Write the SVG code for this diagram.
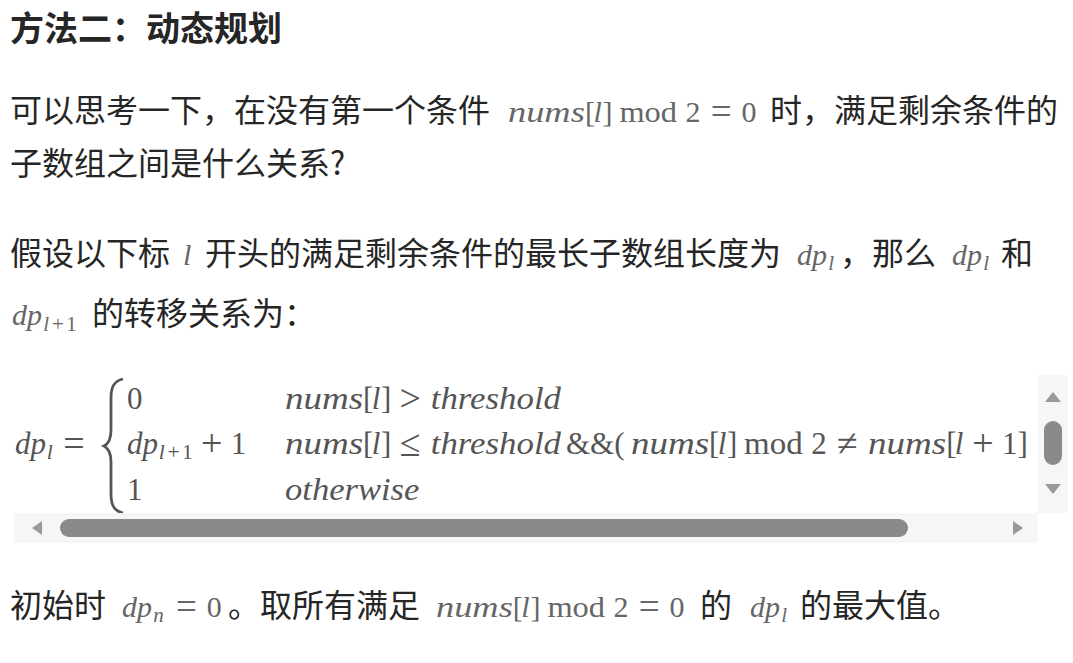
<svg xmlns="http://www.w3.org/2000/svg" width="1073" height="663" viewBox="0 0 1073 663">
<style>
.t{font-family:"Noto Sans CJK SC","Noto Sans",sans-serif;font-size:32px;fill:#262626}
.h{font-weight:bold;font-size:34px}
.mi{font-family:"Liberation Serif",serif;font-style:italic;font-size:30px;fill:#666}
.mr{font-family:"Liberation Serif",serif;font-size:30px;fill:#666}
.s{font-size:21px}
.c{text-anchor:middle}
.mr.op{font-size:37px}
#equation .mi,#equation .mr{fill:#555;font-size:31px}
#equation .mr.op{font-size:38px}
#equation .s{font-size:21.5px}
.track{fill:#f6f6f6}
.thumb{fill:#8a8a8a}
.arrow{fill:#999}
</style>
<rect width="1073" height="663" fill="#ffffff"/>

<g id="title">
<text class="t h" x="10" y="41">方法二：动态规划</text>
</g>

<g id="para1">
<text class="t" x="10" y="122">可以思考一下，在没有第一个条件</text>
<text class="mi" x="508" y="122" textLength="76.8" lengthAdjust="spacingAndGlyphs">nums</text>
<text class="mr" x="585" y="122">[</text>
<text class="mi" x="593.5" y="122">l</text>
<text class="mr" x="602.5" y="122">]</text>
<text class="mr" x="619.4" y="122" textLength="57.6" lengthAdjust="spacingAndGlyphs">mod</text>
<text class="mr" x="685.5" y="122">2</text>
<text class="mr op c" x="721.1" y="124">=</text>
<text class="mr" x="741.4" y="122">0</text>
<text class="t" x="770" y="122">时，满足剩余条件的</text>
<text class="t" x="10" y="175">子数组之间是什么关系?</text>
</g>

<g id="para2">
<text class="t" x="10" y="265">假设以下标</text>
<text class="mi" x="183" y="265">l</text>
<text class="t" x="205" y="265">开头的满足剩余条件的最长子数组长度为</text>
<text class="mi" x="797" y="265">dp</text>
<text class="mi s" x="828.2" y="270">l</text>
<text class="t" x="840" y="265">，那么</text>
<text class="mi" x="952" y="265">dp</text>
<text class="mi s" x="983.2" y="270">l</text>
<text class="t" x="1001" y="265">和</text>
<text class="mi" x="12" y="325">dp</text>
<text class="mi s" x="43.2" y="331">l</text>
<text class="mr s c" x="57.9" y="331">+</text>
<text class="mr s" x="66.3" y="331">1</text>
<text class="t" x="92" y="325">的转移关系为：</text>
</g>

<g id="equation">
<text class="mi" x="15" y="454">dp</text>
<text class="mi s" x="46.7" y="459">l</text>
<text class="mr op c" x="74" y="456">=</text>
<path d="M123,379 C114,381 111,387 111,398 L111,430 C111,440 108,444 104,446 C108,448 111,452 111,462 L111,494 C111,505 114,511 123,513" fill="none" stroke="#555" stroke-width="2.8"/>

<text class="mr" x="127" y="409">0</text>
<text class="mi" x="285" y="409" textLength="78.1" lengthAdjust="spacingAndGlyphs">nums</text>
<text class="mr" x="363.1" y="409">[</text>
<text class="mi" x="371.7" y="409">l</text>
<text class="mr" x="380.9" y="409">]</text>
<text class="mr op c" x="410.2" y="411">&gt;</text>
<text class="mi" x="430.8" y="409" textLength="130.2" lengthAdjust="spacingAndGlyphs">threshold</text>

<text class="mi" x="127" y="454">dp</text>
<text class="mi s" x="158.7" y="459">l</text>
<text class="mr s c" x="173.6" y="459">+</text>
<text class="mr s" x="182.1" y="459">1</text>
<text class="mr op c" x="211.8" y="456">+</text>
<text class="mr" x="230.8" y="454">1</text>
<text class="mi" x="285" y="454" textLength="78.1" lengthAdjust="spacingAndGlyphs">nums</text>
<text class="mr" x="363.1" y="454">[</text>
<text class="mi" x="371.7" y="454">l</text>
<text class="mr" x="380.9" y="454">]</text>
<text class="mr op c" x="410.2" y="456">≤</text>
<text class="mi" x="430.8" y="454" textLength="130.2" lengthAdjust="spacingAndGlyphs">threshold</text>
<text class="mr" x="566" y="454">&amp;&amp;(</text>
<text class="mi" x="631" y="454" textLength="78.1" lengthAdjust="spacingAndGlyphs">nums</text>
<text class="mr" x="709.1" y="454">[</text>
<text class="mi" x="717.7" y="454">l</text>
<text class="mr" x="726.9" y="454">]</text>
<text class="mr" x="744.1" y="454" textLength="58.6" lengthAdjust="spacingAndGlyphs">mod</text>
<text class="mr" x="811.3" y="454">2</text>
<text class="mr op c" x="847.4" y="456">≠</text>
<text class="mi" x="868.1" y="454" textLength="78.1" lengthAdjust="spacingAndGlyphs">nums</text>
<text class="mr" x="946.2" y="454">[</text>
<text class="mi" x="954.8" y="454">l</text>
<text class="mr op c" x="982.9" y="456">+</text>
<text class="mr" x="1001.9" y="454">1</text>
<text class="mr" x="1017.4" y="454">]</text>

<text class="mr" x="127" y="500">1</text>
<text class="mi" x="285" y="500" textLength="134.4" lengthAdjust="spacingAndGlyphs">otherwise</text>
</g>

<g id="scrollbars">
<rect class="track" x="1038" y="375" width="30" height="138"/>
<rect class="track" x="14" y="513" width="1024" height="30"/>
<rect class="thumb" x="60" y="519" width="848" height="18" rx="9"/>
<polygon class="arrow" points="32,528 42,521 42,535"/>
<polygon class="arrow" points="1023,528 1013,521 1013,535"/>
<rect class="thumb" x="1044" y="421" width="18" height="44" rx="9"/>
<polygon class="arrow" points="1053,392 1045,402 1061,402"/>
<polygon class="arrow" points="1045,484 1061,484 1053,494"/>
</g>

<g id="para3">
<text class="t" x="10" y="617">初始时</text>
<text class="mi" x="122" y="617">dp</text>
<text class="mi s" x="153.2" y="622">n</text>
<text class="mr op c" x="186.4" y="619">=</text>
<text class="mr" x="206.7" y="617">0</text>
<text class="t" x="228" y="617">。取所有满足</text>
<text class="mi" x="436" y="617" textLength="76.8" lengthAdjust="spacingAndGlyphs">nums</text>
<text class="mr" x="512.8" y="617">[</text>
<text class="mi" x="521.3" y="617">l</text>
<text class="mr" x="530.4" y="617">]</text>
<text class="mr" x="547.4" y="617" textLength="57.6" lengthAdjust="spacingAndGlyphs">mod</text>
<text class="mr" x="613.5" y="617">2</text>
<text class="mr op c" x="649.1" y="619">=</text>
<text class="mr" x="669.4" y="617">0</text>
<text class="t" x="700" y="617">的</text>
<text class="mi" x="750" y="617">dp</text>
<text class="mi s" x="781.2" y="622">l</text>
<text class="t" x="800" y="617">的最大值。</text>
</g>
</svg>
